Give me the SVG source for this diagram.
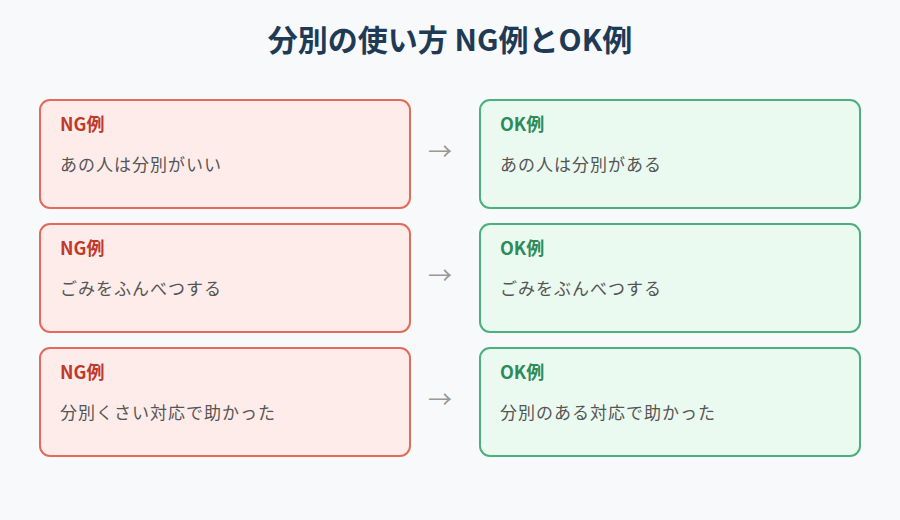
<svg xmlns="http://www.w3.org/2000/svg" width="900" height="520" viewBox="0 0 900 520">
<style>
text{font-family:"Noto Sans CJK JP","Noto Sans",sans-serif}
.title{font-size:30px;font-weight:bold;fill:#1f3a55}
.ng{fill:#feeceb;stroke:#e26b5c;stroke-width:2}
.ok{fill:#eafaf0;stroke:#4caf7d;stroke-width:2}
.ngl{font-size:18px;font-weight:bold;fill:#c0392b}
.okl{font-size:18px;font-weight:bold;fill:#2e8b57}
.body{font-size:17px;fill:#555;letter-spacing:1px}
.arr{font-size:24px;fill:#999}
</style>
<rect width="900" height="520" fill="#f7f9fb"/>
<text class="title" x="450" y="51" text-anchor="middle">分別の使い方 NG例とOK例</text>
<g id="ng1"><rect class="ng" x="40" y="100" width="370" height="108" rx="10"/><text class="ngl" x="60" y="131">NG例</text><text class="body" x="60" y="171">あの人は分別がいい</text></g>
<g id="ok1"><rect class="ok" x="480" y="100" width="380" height="108" rx="10"/><text class="okl" x="500" y="131">OK例</text><text class="body" x="500" y="171">あの人は分別がある</text></g>
<g id="ng2"><rect class="ng" x="40" y="224" width="370" height="108" rx="10"/><text class="ngl" x="60" y="255">NG例</text><text class="body" x="60" y="295">ごみをふんべつする</text></g>
<g id="ok2"><rect class="ok" x="480" y="224" width="380" height="108" rx="10"/><text class="okl" x="500" y="255">OK例</text><text class="body" x="500" y="295">ごみをぶんべつする</text></g>
<g id="ng3"><rect class="ng" x="40" y="348" width="370" height="108" rx="10"/><text class="ngl" x="60" y="379">NG例</text><text class="body" x="60" y="419">分別くさい対応で助かった</text></g>
<g id="ok3"><rect class="ok" x="480" y="348" width="380" height="108" rx="10"/><text class="okl" x="500" y="379">OK例</text><text class="body" x="500" y="419">分別のある対応で助かった</text></g>
<g id="connectors">
<text class="arr" x="440" y="160" text-anchor="middle">→</text>
<text class="arr" x="440" y="284" text-anchor="middle">→</text>
<text class="arr" x="440" y="408" text-anchor="middle">→</text>
</g>
</svg>
